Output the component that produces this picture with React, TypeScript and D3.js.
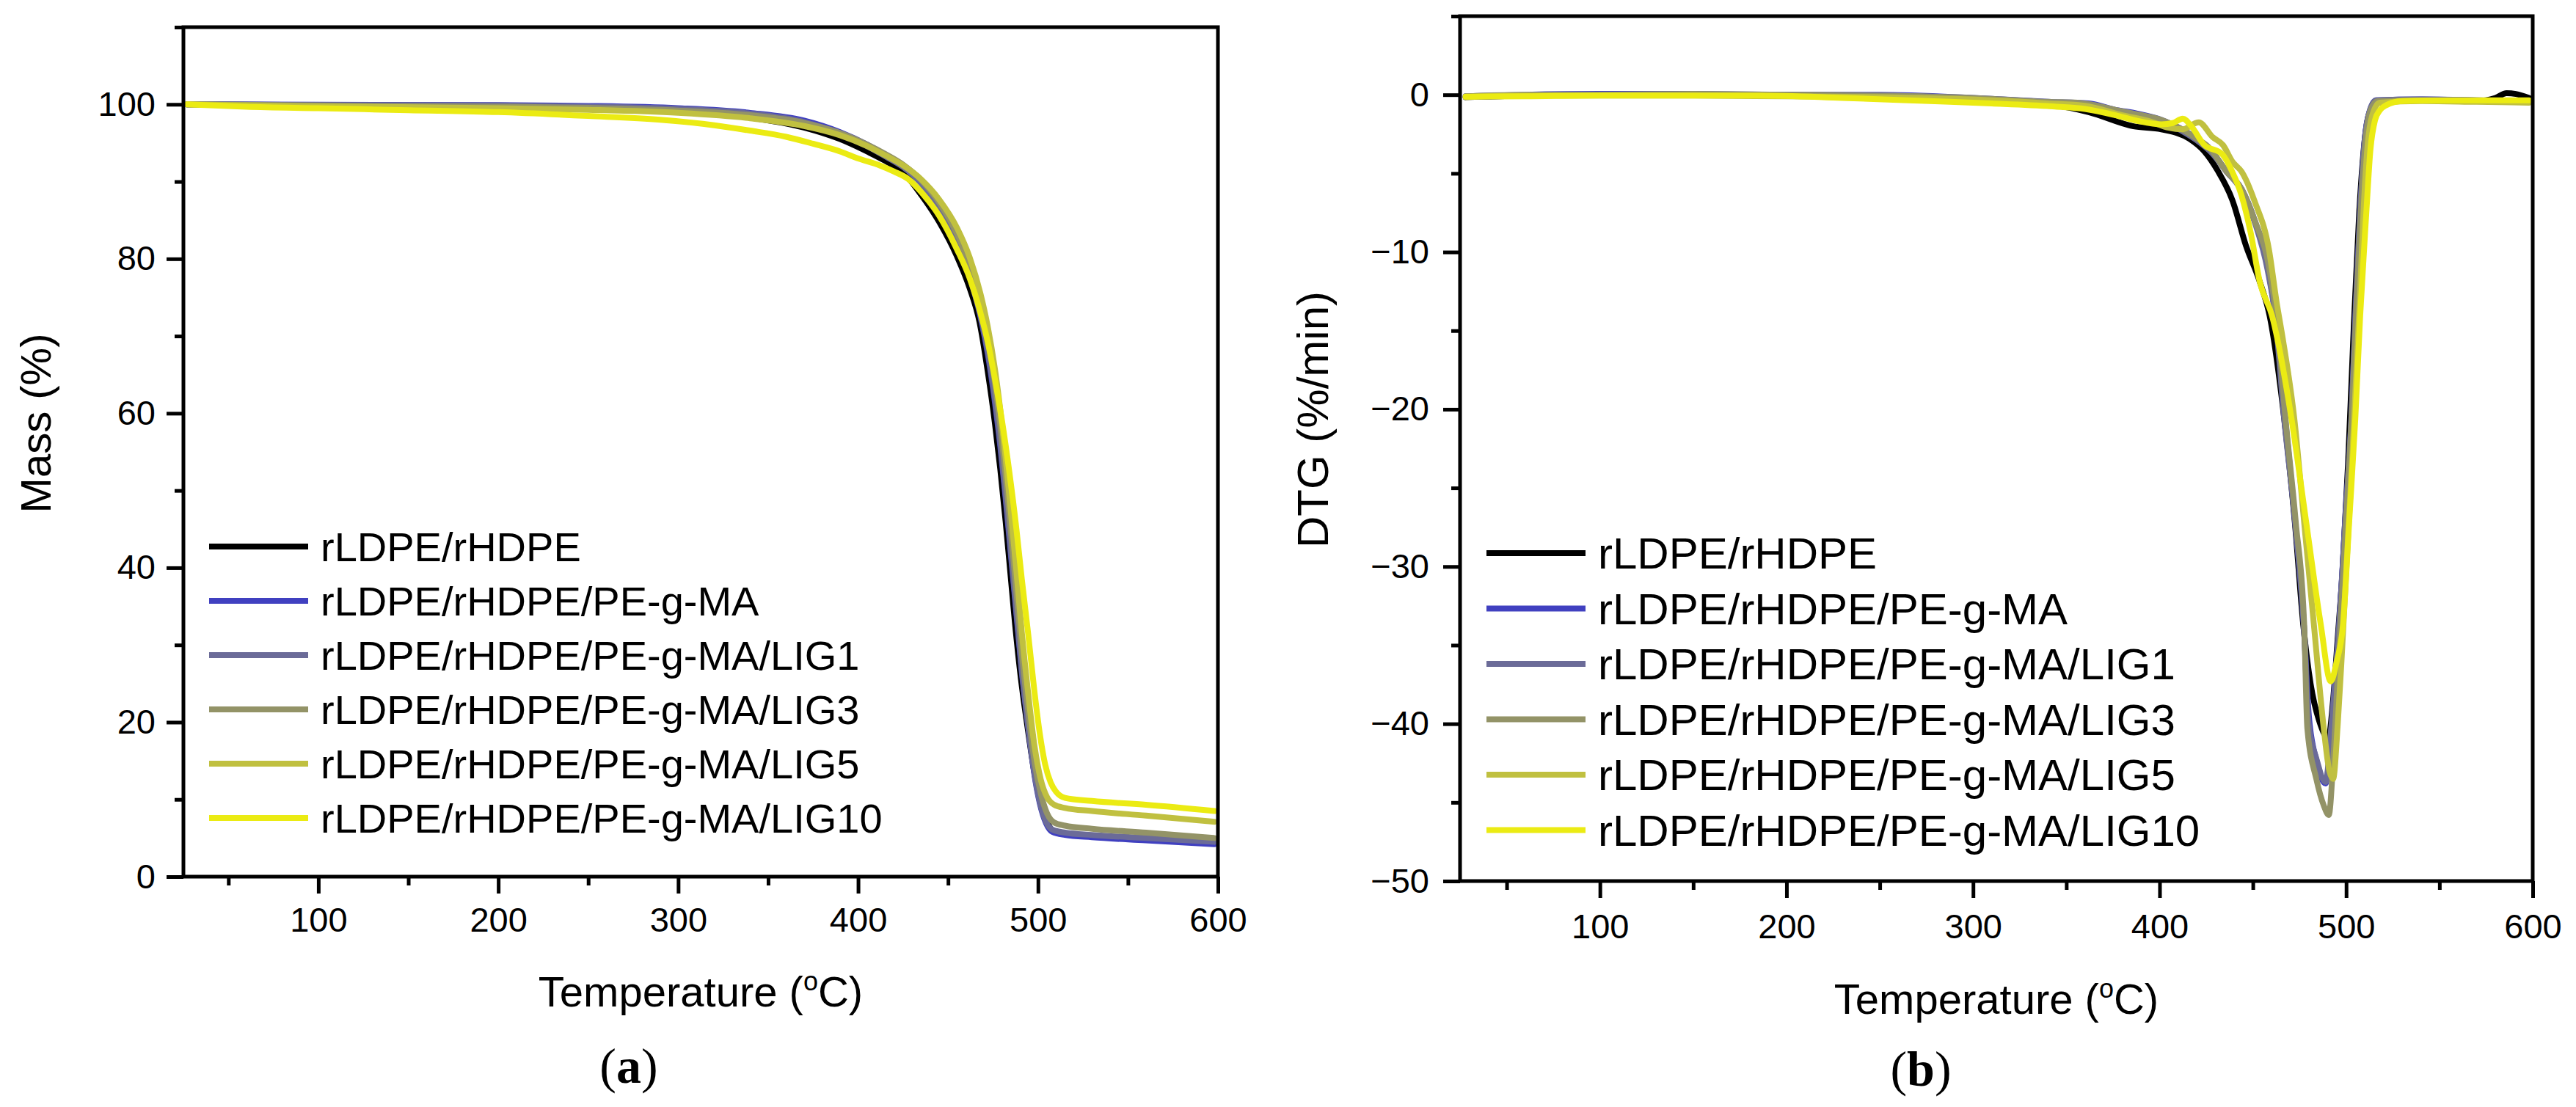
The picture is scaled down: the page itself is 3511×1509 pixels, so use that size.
import React, { useRef, useEffect } from "react";
import * as d3 from "d3";

type Pt = [number, number];

const W = 3511;
const H = 1509;

const sampleNames = [
  "rLDPE/rHDPE",
  "rLDPE/rHDPE/PE-g-MA",
  "rLDPE/rHDPE/PE-g-MA/LIG1",
  "rLDPE/rHDPE/PE-g-MA/LIG3",
  "rLDPE/rHDPE/PE-g-MA/LIG5",
  "rLDPE/rHDPE/PE-g-MA/LIG10",
];
const sampleColors = ["#000000", "#4040c0", "#6b6b98", "#939367", "#c0c040", "#ebeb13"];

const tempMajor = [100, 200, 300, 400, 500, 600];
const tempMinor = [50, 150, 250, 350, 450, 550];
const massMajor = [0, 20, 40, 60, 80, 100];
const massMinor = [10, 30, 50, 70, 90, 110];
const dtgMajor = [0, -10, -20, -30, -40, -50];
const dtgMinor = [5, -5, -15, -25, -35, -45];

// TGA mass curves: [temperature °C, mass %]
const massBlend: Pt[] = [
  [27, 100], [100, 99.9], [200, 99.75], [250, 99.55], [300, 99.1], [340, 98.3], [370, 97.0],
  [390, 95.5], [405, 93.9], [415, 92.7], [425, 91.2], [435, 88.3], [445, 84.8], [455, 80.3],
  [462, 76.2], [467.5, 71.8], [472, 65.5], [476, 58.8], [479, 52.8], [482, 46.0], [484.6, 39.4],
  [487.2, 32.8], [490.5, 25.6], [494.2, 19.3], [497.6, 14.0], [501, 10.0], [504.5, 7.4], [508, 6.0],
  [515, 5.5], [530, 5.2], [560, 4.8], [598, 4.3],
];
const massMA: Pt[] = [
  [27, 100], [100, 99.95], [200, 99.9], [250, 99.8], [300, 99.5], [340, 98.9], [370, 97.9],
  [390, 96.4], [405, 94.8], [415, 93.5], [425, 92.0], [435, 89.8], [445, 86.6], [455, 82.0],
  [462, 77.7], [468, 72.5], [472, 67.8], [476, 61.5], [479, 55.8], [482, 49.0], [485, 41.5],
  [488, 34.0], [491, 26.5], [494.5, 19.5], [497.8, 13.5], [501, 9.5], [504.5, 6.9], [508, 5.8],
  [515, 5.4], [530, 5.1], [560, 4.7], [598, 4.2],
];
const massLIG1: Pt[] = [
  [27, 100], [100, 99.9], [200, 99.85], [250, 99.7], [300, 99.4], [340, 98.8], [370, 97.7],
  [390, 96.2], [405, 94.6], [415, 93.3], [425, 91.9], [435, 89.8], [445, 86.7], [455, 82.2],
  [462, 78.0], [468, 72.8], [472, 68.2], [476, 62.0], [479, 56.3], [482, 49.5], [485, 42.0],
  [488, 34.4], [491, 26.8], [494.5, 19.6], [497.8, 13.7], [501, 9.7], [504.5, 7.1], [508, 6.1],
  [515, 5.7], [530, 5.4], [560, 5.0], [598, 4.5],
];
const massLIG3: Pt[] = [
  [27, 100], [100, 99.85], [200, 99.7], [250, 99.55], [300, 99.2], [340, 98.6], [370, 97.6],
  [390, 96.3], [405, 94.8], [415, 93.6], [425, 92.2], [435, 90.2], [445, 87.3], [455, 83.2],
  [462, 79.2], [468, 74.2], [472, 69.8], [476, 64.0], [479, 58.5], [482, 52.0], [485, 44.5],
  [488, 36.8], [491, 29.0], [494.5, 21.5], [498, 15.0], [501.5, 10.8], [505, 8.2], [509, 7.0],
  [515, 6.6], [530, 6.2], [560, 5.7], [598, 5.0],
];
const massLIG5: Pt[] = [
  [27, 100], [100, 99.75], [200, 99.5], [250, 99.3], [300, 98.9], [340, 98.2], [370, 97.2],
  [390, 96.0], [405, 94.6], [415, 93.4], [425, 92.1], [435, 90.3], [445, 87.7], [455, 84.0],
  [462, 80.2], [468, 75.5], [472, 71.3], [476, 65.8], [479, 60.5], [482, 54.2], [485, 47.0],
  [488, 39.5], [491, 31.6], [494.5, 23.8], [498, 17.0], [501.5, 12.6], [505, 10.3], [509, 9.3],
  [515, 8.9], [530, 8.5], [560, 7.9], [598, 7.1],
];
const massLIG10: Pt[] = [
  [27, 100], [60, 99.7], [100, 99.5], [150, 99.25], [200, 99.0], [250, 98.5], [290, 98.0],
  [320, 97.3], [340, 96.6], [360, 95.8], [375, 94.9], [390, 93.9], [400, 93.0], [412, 92.1],
  [420, 91.3], [428, 90.3], [436, 88.4], [445, 85.6], [455, 81.2], [462, 77.5], [468, 73.0],
  [472, 69.3], [476, 64.5], [480, 59.0], [484, 52.5], [488, 45.0], [491, 38.5], [494.5, 31.5],
  [498, 24.0], [501, 18.5], [504, 14.5], [507, 12.2], [510, 11.0], [515, 10.2], [530, 9.8],
  [560, 9.3], [598, 8.5],
];

// DTG curves: [temperature °C, %/min]
const dtgBlend: Pt[] = [
  [28, -0.15], [60, -0.05], [100, 0], [150, 0], [200, 0], [250, -0.1], [300, -0.3], [340, -0.6],
  [362, -1.1], [386, -2.0], [401, -2.2], [416, -2.8], [424, -3.6], [431, -4.8], [439, -6.7],
  [446.3, -9.6], [453.7, -11.9], [459, -14.07], [466.8, -20.6], [472.5, -27.2], [477, -33.7],
  [481, -37.5], [485.5, -39.8], [490.4, -40.9], [493, -38.5], [495.5, -34.5], [498, -30.4],
  [501, -23.5], [504, -15], [507, -7.5], [510, -2.8], [513, -1.0], [518, -0.5], [540, -0.35],
  [570, -0.4], [580, -0.2], [586, 0.1], [591, 0.05], [598, -0.2],
];
const dtgMA: Pt[] = [
  [28, -0.1], [60, 0], [100, 0.05], [150, 0.05], [200, 0], [250, 0], [300, -0.2], [340, -0.45],
  [362, -0.55], [376, -0.95], [388, -1.2], [401, -1.6], [412, -2.2], [420, -2.8], [428, -3.6],
  [436, -4.9], [444, -6.0], [451, -8.0], [458, -11.0], [462, -14.0], [466.8, -20.0], [472.7, -27.2],
  [477.3, -33.7], [480, -39.5], [484, -42.3], [489, -43.8], [492, -40.5], [494.5, -36.5],
  [496.3, -33.7], [499.5, -27], [502.8, -20.6], [505, -14], [507.5, -7.5], [510, -2.8],
  [512.7, -1.0], [516, -0.35], [540, -0.3], [570, -0.35], [598, -0.4],
];
const dtgLIG1: Pt[] = [
  [28, -0.15], [60, -0.05], [100, 0], [150, 0], [200, 0], [250, -0.05], [300, -0.25], [340, -0.5],
  [362, -0.6], [376, -1.0], [388, -1.25], [401, -1.65], [412, -2.3], [420, -2.9], [428, -3.7],
  [436, -4.9], [444, -6.1], [451, -8.1], [458, -11.2], [462, -14.1], [466.8, -20.6], [472.7, -27.2],
  [477.3, -33.7], [479.9, -40.0], [484, -42.2], [489, -43.7], [492, -40.3], [494.5, -36.8],
  [496.3, -33.7], [499.5, -27.2], [502.8, -20.6], [505, -14.2], [507.5, -7.5], [510, -2.9],
  [512.7, -1.0], [516, -0.35], [540, -0.3], [570, -0.35], [598, -0.45],
];
const dtgLIG3: Pt[] = [
  [28, -0.1], [60, 0], [100, 0], [150, 0.05], [200, 0], [250, -0.05], [300, -0.2], [340, -0.45],
  [356, -0.5], [376, -0.95], [388, -1.25], [401, -1.6], [412, -2.2], [420, -2.8], [426, -3.3],
  [436, -4.9], [444, -6.0], [451, -8.0], [458.7, -11.0], [463, -14.5], [467.5, -20.6], [473, -27.2],
  [477.5, -33.7], [479.2, -40.3], [484, -43.5], [488, -45.2], [490.7, -45.8], [493, -42.5],
  [495.5, -37], [497.5, -32.5], [500.5, -26], [503.3, -19.8], [505.5, -13.5], [508, -7.2],
  [510.5, -2.8], [513, -1.0], [517, -0.4], [540, -0.35], [570, -0.4], [598, -0.45],
];
const dtgLIG5: Pt[] = [
  [28, -0.15], [60, -0.05], [100, -0.05], [150, -0.05], [200, -0.1], [250, -0.15], [300, -0.3],
  [340, -0.55], [360, -0.7], [380, -1.3], [395, -1.7], [405, -2.1], [412, -2.2], [421, -1.75],
  [428.5, -2.7], [434, -3.2], [439, -4.25], [444, -4.9], [451, -6.8], [458.7, -9.9], [462.6, -13.1],
  [466, -15.5], [472.2, -20.6], [477.5, -27.2], [482.7, -33.7], [488, -40.3], [491, -43],
  [493, -43.5], [495.5, -40], [497.5, -36], [499.5, -31.5], [501.5, -27], [503.5, -22.5],
  [505.5, -17.5], [507.5, -12.5], [509.5, -7], [511.5, -3.2], [514, -1.3], [518, -0.5],
  [540, -0.4], [570, -0.45], [598, -0.5],
];
const dtgLIG10: Pt[] = [
  [28, -0.12], [60, -0.1], [100, -0.05], [150, -0.05], [186, -0.05], [230, -0.2], [274, -0.39],
  [310, -0.55], [344, -0.75], [360, -0.9], [376, -1.29], [388.5, -1.67], [401, -1.88], [407, -1.8],
  [412.4, -1.52], [417, -2.0], [423.7, -3.16], [433.6, -3.78], [438.8, -4.86], [443.9, -6.4],
  [448.8, -8.76], [453.7, -11.9], [460.3, -14.07], [470.7, -20.6], [478.6, -27.2], [486.4, -33.7],
  [491.7, -37.3], [495, -36], [498.3, -33.7], [501.6, -27.2], [504.9, -20.6], [507.5, -14.07],
  [510.8, -7.5], [513, -3.5], [515.5, -1.6], [518, -1.0], [521.5, -0.66], [530, -0.4],
  [560, -0.35], [598, -0.35],
];

const massSeries = [massBlend, massMA, massLIG1, massLIG3, massLIG5, massLIG10];
const dtgSeries = [dtgBlend, dtgMA, dtgLIG1, dtgLIG3, dtgLIG5, dtgLIG10];

const SANS = "'Liberation Sans', Arial, sans-serif";
const SERIF = "'Liberation Serif', 'Times New Roman', serif";

const panels = [
  {
    tag: "a", left: 250, right: 1660, top: 37, bottom: 1195,
    yDomain: [0, 110], yMajor: massMajor, yMinor: massMinor, series: massSeries,
    yTitle: "Mass (%)", yTitleX: 69, yTitleY: 577, yTitleSize: 58, xTitleY: 1372,
    tagX: 857, tagY: 1476, legendX: 285, legendY: 745, legendStep: 74, legendSize: 56,
    yPad: 15, xPad: 19,
  },
  {
    tag: "b", left: 1990, right: 3452, top: 22, bottom: 1201,
    yDomain: [-50, 5], yMajor: dtgMajor, yMinor: dtgMinor, series: dtgSeries,
    yTitle: "DTG (%/min)", yTitleX: 1810, yTitleY: 572, yTitleSize: 60, xTitleY: 1382,
    tagX: 2618, tagY: 1480, legendX: 2026, legendY: 754, legendStep: 75.5, legendSize: 60,
    yPad: 19, xPad: 22,
  },
];

function drawPanel(svg: any, p: any) {
  const x = d3.scaleLinear().domain([25, 600]).range([p.left, p.right]);
  const y = d3.scaleLinear().domain(p.yDomain).range([p.bottom, p.top]);
  const g = svg.append("g");

  const line = d3.line<Pt>()
    .x(d => x(d[0]))
    .y(d => y(d[1]))
    .curve(d3.curveMonotoneX);

  p.series.forEach((s: Pt[], i: number) => {
    g.append("path")
      .attr("d", line(s))
      .attr("fill", "none")
      .attr("stroke", sampleColors[i])
      .attr("stroke-width", 8)
      .attr("stroke-linejoin", "round")
      .attr("stroke-linecap", "round");
  });

  // box around the plot area
  g.append("rect")
    .attr("x", p.left).attr("y", p.top)
    .attr("width", p.right - p.left).attr("height", p.bottom - p.top)
    .attr("fill", "none").attr("stroke", "#000").attr("stroke-width", 5);

  const styleAxis = (a: any, size: number) => {
    a.select(".domain").remove();
    a.attr("font-family", SANS).attr("font-size", size);
    a.selectAll("line").attr("stroke", "#000").attr("stroke-width", 5);
    a.selectAll("text").attr("fill", "#000");
  };

  g.append("g")
    .attr("transform", `translate(0,${p.bottom})`)
    .call(d3.axisBottom(x).tickValues(tempMajor).tickSize(23).tickPadding(p.xPad).tickFormat(d3.format("d")))
    .call((a: any) => styleAxis(a, 47));
  g.append("g")
    .attr("transform", `translate(0,${p.bottom})`)
    .call(d3.axisBottom(x).tickValues(tempMinor).tickSize(12).tickFormat(() => ""))
    .call((a: any) => styleAxis(a, 47));
  g.append("g")
    .attr("transform", `translate(${p.left},0)`)
    .call(d3.axisLeft(y).tickValues(p.yMajor).tickSize(23).tickPadding(p.yPad).tickFormat(d3.format("d")))
    .call((a: any) => styleAxis(a, 47));
  g.append("g")
    .attr("transform", `translate(${p.left},0)`)
    .call(d3.axisLeft(y).tickValues(p.yMinor).tickSize(12).tickFormat(() => ""))
    .call((a: any) => styleAxis(a, 47));

  // axis titles
  const xt = g.append("text")
    .attr("x", (p.left + p.right) / 2).attr("y", p.xTitleY)
    .attr("text-anchor", "middle")
    .attr("font-family", SANS).attr("font-size", 58).attr("fill", "#000");
  xt.append("tspan").text("Temperature (");
  xt.append("tspan").attr("font-size", 36).attr("dy", -22).text("o");
  xt.append("tspan").attr("dy", 22).text("C)");

  g.append("text")
    .attr("transform", `translate(${p.yTitleX},${p.yTitleY}) rotate(-90)`)
    .attr("text-anchor", "middle")
    .attr("font-family", SANS).attr("font-size", p.yTitleSize).attr("fill", "#000")
    .text(p.yTitle);

  // panel letter
  const tg = g.append("text")
    .attr("x", p.tagX).attr("y", p.tagY)
    .attr("text-anchor", "middle")
    .attr("font-family", SERIF).attr("font-size", 68).attr("fill", "#000");
  tg.append("tspan").text("(");
  tg.append("tspan").attr("font-weight", "bold").text(p.tag);
  tg.append("tspan").text(")");

  // legend
  const lg = g.append("g");
  sampleNames.forEach((name, i) => {
    const cy = p.legendY + i * p.legendStep;
    lg.append("line")
      .attr("x1", p.legendX).attr("x2", p.legendX + 135)
      .attr("y1", cy).attr("y2", cy)
      .attr("stroke", sampleColors[i]).attr("stroke-width", 8);
    lg.append("text")
      .attr("x", p.legendX + 152).attr("y", cy + p.legendSize * 0.358)
      .attr("font-family", SANS).attr("font-size", p.legendSize).attr("fill", "#000")
      .text(name);
  });
}

const App = () => {
  const ref = useRef<SVGSVGElement>(null);

  useEffect(() => {
    if (!ref.current) return;
    const svg = d3.select(ref.current);
    svg.selectAll("*").remove();
    panels.forEach(p => drawPanel(svg, p));
  }, []);

  return (
    <svg
      ref={ref}
      width={W}
      height={H}
      style={{ position: "absolute", left: 0, top: 0, background: "#fff", display: "block" }}
    />
  );
};

export default App;
